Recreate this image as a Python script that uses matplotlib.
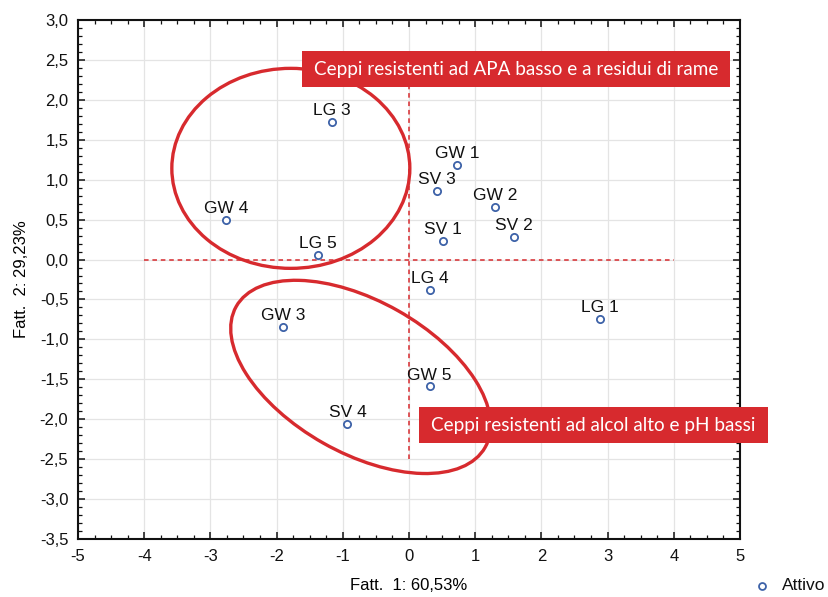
import matplotlib
matplotlib.use("Agg")
import matplotlib.pyplot as plt
import matplotlib.transforms as mtransforms
from matplotlib.patches import Ellipse, Rectangle
from matplotlib.lines import Line2D
from matplotlib.ticker import MultipleLocator, FuncFormatter

plt.rcParams['font.family'] = ['Liberation Sans', 'DejaVu Sans']
plt.rcParams['axes.unicode_minus'] = False

# ---- data ----
labels = ["LG 3", "GW 4", "LG 5", "GW 1", "SV 3", "GW 2", "SV 1", "SV 2",
          "LG 4", "LG 1", "GW 5", "GW 3", "SV 4"]
fatt1 = [-1.16, -2.76, -1.38, 0.73, 0.42, 1.30, 0.51, 1.59,
         0.31, 2.89, 0.31, -1.90, -0.93]
fatt2 = [1.72, 0.49, 0.06, 1.19, 0.86, 0.66, 0.23, 0.28,
         -0.38, -0.74, -1.59, -0.85, -2.06]
xlabel = "Fatt.  1: 60,53%"
ylabel = "Fatt.  2: 29,23%"
legend_label = "Attivo"
box_top_text = "Ceppi resistenti ad APA basso e a residui di rame"
box_bottom_text = "Ceppi resistenti ad alcol alto e pH bassi"

RED = "#d72a2e"
BLUE = "#3d62a8"

fig = plt.figure(figsize=(8.29, 5.97), dpi=100)
ax = fig.add_axes([78/829, 1-539/597, (740-78)/829, (539-20)/597])
ax.set_xlim(-5, 5)
ax.set_ylim(-3.5, 3.0)

ax.xaxis.set_major_locator(MultipleLocator(1))
ax.xaxis.set_minor_locator(MultipleLocator(0.25))
ax.yaxis.set_major_locator(MultipleLocator(0.5))
ax.yaxis.set_minor_locator(MultipleLocator(0.1))
ax.yaxis.set_major_formatter(FuncFormatter(lambda v, p: f"{v:.1f}".replace(".", ",")))
ax.xaxis.set_major_formatter(FuncFormatter(lambda v, p: f"{v:.0f}"))

ax.tick_params(which='both', direction='in', top=True, right=True,
               labelsize=12, colors='#111111')
ax.tick_params(which='major', length=5, width=1.1, pad=7)
ax.tick_params(which='minor', length=3, width=0.9)
for s in ax.spines.values():
    s.set_linewidth(1.5)
    s.set_color('#111111')

ax.grid(True, which='major', color='#e4e4e4', lw=0.9)
ax.set_axisbelow(True)

ax.set_xlabel(xlabel, fontsize=12, labelpad=10)
ax.set_ylabel(ylabel, fontsize=12, labelpad=8)

# dashed reference lines
ax.plot([-4, 4], [0, 0], color=RED, lw=1.1, ls=(0, (3, 2.5)), zorder=2)
ax.plot([0, 0], [-2.5, 2.5], color=RED, lw=1.1, ls=(0, (3, 2.5)), zorder=2)

# ellipses (sizes in pixels, anchored at data centres)
def pix_ellipse(cx, cy, a, b, ang):
    trans = mtransforms.Affine2D() + mtransforms.ScaledTranslation(cx, cy, ax.transData)
    e = Ellipse((0, 0), 2*a, 2*b, angle=ang, transform=trans,
                fill=False, edgecolor=RED, lw=2.4, zorder=3, clip_on=False)
    ax.add_artist(e)

pix_ellipse(-1.785, 1.142, 119, 100, 0)
pix_ellipse(-0.73, -1.47, 143, 76, -29.5)

# red boxes
def red_box(x0, x1, y0, y1, text, fs):
    r = Rectangle((x0, y0), x1-x0, y1-y0, facecolor=RED, edgecolor='none',
                  zorder=4, clip_on=False)
    ax.add_patch(r)
    ax.text((x0+x1)/2, (y0+y1)/2, text, color='white', fontsize=fs,
            family=['Lato', 'DejaVu Sans'], ha='center', va='center',
            zorder=5, clip_on=False)

red_box(-1.616, 4.85, 2.160, 2.611, box_top_text, 13.6)
red_box(0.151, 5.42, -2.303, -1.852, box_bottom_text, 13.6)

# points
ax.plot(fatt1, fatt2, ls='none', marker='o', ms=5.2, mfc='white',
        mec=BLUE, mew=1.3, zorder=6)
for lab, x, y in zip(labels, fatt1, fatt2):
    ax.annotate(lab, (x, y), xytext=(0, 5), textcoords='offset points',
                ha='center', va='baseline', fontsize=12.5, color='#111111', zorder=7)

# legend
fig.add_artist(Line2D([762/829], [1-586/597], marker='o', ls='none', ms=5,
                      mfc='white', mec=BLUE, mew=1.3, transform=fig.transFigure))
fig.text(782/829, 1-586/597, legend_label, fontsize=12.5, va='center', ha='left',
         color='#111111')

fig.savefig("out.png", dpi=100)
